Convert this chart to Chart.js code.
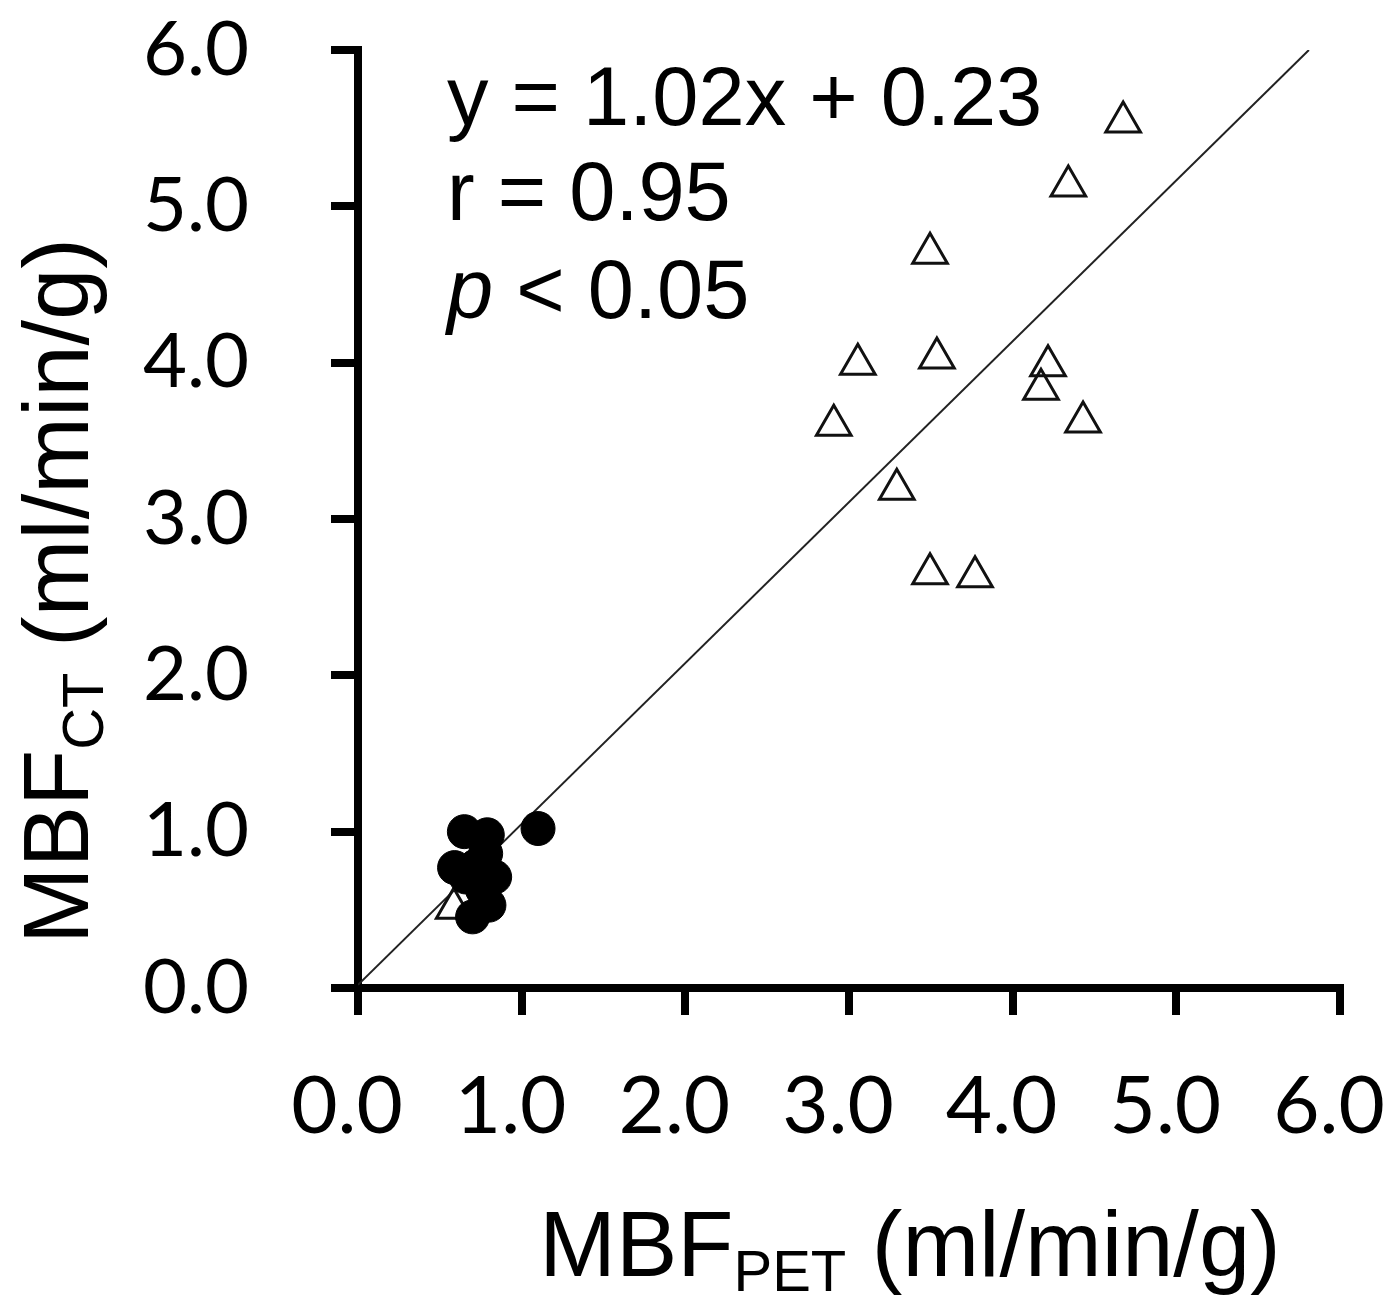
<!DOCTYPE html>
<html>
<head>
<meta charset="utf-8">
<script src="https://cdn.jsdelivr.net/npm/chart.js@4.4.1/dist/chart.umd.min.js"></script>
<style>
  html, body { margin: 0; padding: 0; background: #fff; }
  #wrap { width: 1385px; height: 1302px; position: relative; }
</style>
</head>
<body>
<div id="wrap"><canvas id="myChart"></canvas></div>
<script>
// rest MBF (filled circles)
const restPET = [1.10, 0.65, 0.79, 0.59, 0.72, 0.835, 0.78, 0.66, 0.70, 0.80, 0.76]
const restCT = [1.02, 1.00, 0.98, 0.77, 0.78, 0.71, 0.86, 0.71, 0.455, 0.53, 0.63]

// stress MBF (open triangles)
const stressPET = [4.675, 4.34, 3.495, 3.054, 3.537, 4.216, 4.173, 2.907, 4.43, 3.292, 3.495, 3.77, 0.585]
const stressCT = [5.54, 5.13, 4.70, 3.99, 4.03, 3.98, 3.83, 3.60, 3.62, 3.19, 2.65, 2.63, 0.51]

// line as drawn in the figure
const lineX = [0, 5.81]
const lineY = [0.02, 6.0]

// axis ticks
const axisMin = 0
const axisMax = 6
const axisStep = 1

const statsLines = ['y = 1.02x + 0.23', 'r = 0.95', '< 0.05']

const toPoints = (xs, ys) => xs.map((x, i) => ({ x: x, y: ys[i] }))

// titles with subscripts + stats text
const textPlugin = {
	id: 'figureText',
	afterDraw: chart => {
		const ctx = chart.ctx
		const area = chart.chartArea
		ctx.save()
		ctx.fillStyle = '#000'
		ctx.textBaseline = 'alphabetic'
		ctx.textAlign = 'left'

		// stats block
		const sx = area.left + 89
		const statFont = '83px "Liberation Sans", Arial, sans-serif'
		ctx.font = statFont
		ctx.fillText(statsLines[0], sx, area.top + 75)
		ctx.fillText(statsLines[1], sx, area.top + 170)
		ctx.font = 'italic 83px "Liberation Sans", Arial, sans-serif'
		ctx.fillText('p', sx, area.top + 268)
		const pw = ctx.measureText('p ').width
		ctx.font = statFont
		ctx.fillText(statsLines[2], sx + pw, area.top + 268)

		// title with subscript, drawn centred at (0,0) on baseline
		const drawTitle = (main, sub, rest) => {
			const big = '92px "Liberation Sans", Arial, sans-serif'
			const small = '58px "Liberation Sans", Arial, sans-serif'
			ctx.font = big
			const w1 = ctx.measureText(main).width
			const w3 = ctx.measureText(rest).width
			ctx.font = small
			const w2 = ctx.measureText(sub).width
			let x = -(w1 + w2 + w3) / 2
			ctx.font = big
			ctx.fillText(main, x, 0)
			x += w1
			ctx.font = small
			ctx.fillText(sub, x, 15)
			x += w2
			ctx.font = big
			ctx.fillText(rest, x, 0)
		}

		ctx.save()
		ctx.translate(910, 1276)
		drawTitle('MBF', 'PET', ' (ml/min/g)')
		ctx.restore()

		ctx.save()
		ctx.translate(88, 591)
		ctx.rotate(-Math.PI / 2)
		drawTitle('MBF', 'CT', ' (ml/min/g)')
		ctx.restore()

		ctx.restore()
	}
}

const axisCommon = {
	type: 'linear',
	min: axisMin,
	max: axisMax,
	border: { display: true, color: '#000', width: 8 },
	grid: {
		drawOnChartArea: false,
		drawTicks: true,
		tickLength: 27,
		lineWidth: 8,
		color: '#000'
	}
}

const chart = document.querySelector('#myChart').getContext('2d')

const myChart = new Chart(chart, {
	type: 'scatter',
	data: {
		datasets: [
			{
				label: 'rest',
				data: toPoints(restPET, restCT),
				pointStyle: 'circle',
				pointRadius: 17,
				backgroundColor: '#000',
				borderColor: '#000',
				borderWidth: 1
			},
			{
				label: 'stress',
				data: toPoints(stressPET, stressCT),
				pointStyle: 'triangle',
				pointRadius: 20,
				backgroundColor: 'rgba(255,255,255,0)',
				borderColor: '#111',
				borderWidth: 3
			},
			{
				label: 'line',
				type: 'line',
				data: toPoints(lineX, lineY),
				borderColor: '#222',
				borderWidth: 2,
				pointRadius: 0,
				fill: false
			}
		]
	},
	options: {
		responsive: true,
		maintainAspectRatio: false,
		animation: false,
		events: [],
		layout: { padding: { top: 50, right: 45, left: 0, bottom: 0 } },
		plugins: {
			legend: { display: false },
			tooltip: { enabled: false }
		},
		scales: {
			x: {
				...axisCommon,
				position: 'bottom',
				ticks: {
					stepSize: axisStep,
					padding: 44,
					labelOffset: -11,
					color: '#000',
					font: { family: 'Lato', size: 80 },
					callback: v => v.toFixed(1)
				},
				afterFit: scale => {
					scale.height = 314
					scale.paddingLeft = 0
					scale.paddingRight = 0
				}
			},
			y: {
				...axisCommon,
				position: 'left',
				ticks: {
					stepSize: axisStep,
					padding: 82,
					color: '#000',
					font: { family: 'Lato', size: 76 },
					callback: v => v.toFixed(1)
				},
				afterFit: scale => {
					scale.width = 358
					scale.paddingTop = 0
					scale.paddingBottom = 0
				}
			}
		}
	},
	plugins: [textPlugin]
})
</script>
</body>
</html>
